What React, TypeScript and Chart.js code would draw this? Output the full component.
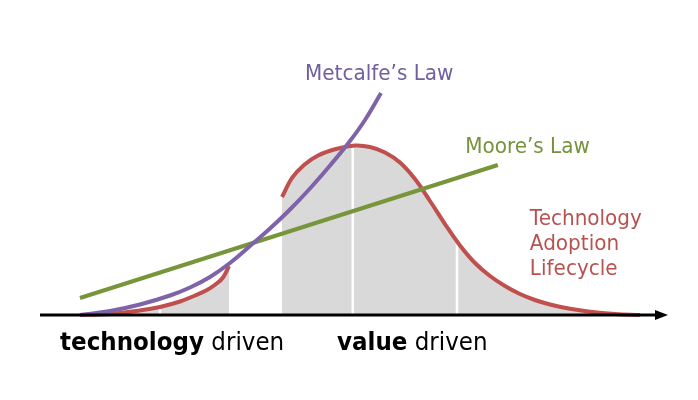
import React, { useEffect, useRef } from "react";
import { Chart, registerables } from "chart.js";

Chart.register(...registerables);

// Horizontal axis: 0..100 (time / maturity), vertical: 0..100 (magnitude)
const earlyAdoptionX = [6.37, 9.55, 12.74, 15.92, 19.11, 22.29, 24.68, 26.59, 28.03, 29.14, 30.1];
const earlyAdoptionY = [0, 0.17, 0.67, 1.5, 2.67, 4.5, 6.5, 8.33, 10.33, 12.5, 16.33];

const mainAdoptionX = [38.54, 40.13, 42.04, 44.27, 47.13, 50.16, 52.55, 54.94, 57.32, 59.71, 62.1, 64.49, 66.88, 69.27, 71.66, 74.04, 76.43, 78.82, 81.21, 84.39, 87.58, 91.56, 95.54];
const mainAdoptionY = [39.33, 45.67, 50, 53.17, 55.33, 56.5, 56, 54.17, 50.83, 45.33, 38, 30.33, 23.17, 17.33, 13, 9.67, 7, 5, 3.5, 2.07, 1.1, 0.37, 0];

const metcalfeX = [6.37, 11.15, 15.92, 20.7, 23.89, 27.07, 30.25, 33.44, 36.62, 39.81, 42.99, 46.18, 49.36, 51.75, 54.3];
const metcalfeY = [0, 1.33, 3.5, 6.5, 9.17, 12.67, 17.33, 23, 28.83, 35.17, 42.17, 49.83, 58, 65, 74];

const mooreX = [6.37, 72.9];
const mooreY = [5.67, 50.0];

const dividerX = [19.11, 49.8, 66.4];
const dividerTop = [2.67, 56.5, 24.6];

const seriesNames = ["Metcalfe’s Law", "Moore’s Law", "Technology", "Adoption", "Lifecycle"];
const phaseBold = ["technology", "value"];
const phaseRest = [" driven", " driven"];

const RED = "#c0504d";
const PURPLE = "#7f63a9";
const GREEN = "#77953a";
const FILL = "#d9d9d9";

const pts = (xs: number[], ys: number[]) => xs.map((x, i) => ({ x, y: ys[i] }));

const FONT = '"DejaVu Sans", Verdana, sans-serif';
const STRETCH = 1.1;

function drawText(ctx: CanvasRenderingContext2D, text: string, x: number, y: number) {
  ctx.save();
  ctx.translate(x, y);
  ctx.scale(1, STRETCH);
  ctx.fillText(text, 0, 0);
  ctx.restore();
}

const decorPlugin = {
  id: "decor",
  afterDatasetsDraw(chart: any) {
    const { ctx, chartArea, scales } = chart;
    const ys = scales.y;
    const y0 = ys.getPixelForValue(0);
    ctx.save();
    ctx.strokeStyle = "#000";
    ctx.fillStyle = "#000";
    ctx.lineWidth = 3;
    ctx.beginPath();
    ctx.moveTo(chartArea.left, y0);
    ctx.lineTo(chartArea.right - 8, y0);
    ctx.stroke();
    ctx.beginPath();
    ctx.moveTo(chartArea.right, y0);
    ctx.lineTo(chartArea.right - 13, y0 - 5);
    ctx.lineTo(chartArea.right - 13, y0 + 5);
    ctx.closePath();
    ctx.fill();
    ctx.restore();
  },
  afterDraw(chart: any) {
    const { ctx, scales } = chart;
    const xs = scales.x;
    const ys = scales.y;
    const P = (x: number, y: number) => [xs.getPixelForValue(x), ys.getPixelForValue(y)];
    ctx.save();
    ctx.textBaseline = "alphabetic";
    ctx.textAlign = "left";
    ctx.font = `20px ${FONT}`;
    let [tx, ty] = P(42.2, 78.3);
    ctx.fillStyle = "#7060a0";
    drawText(ctx, seriesNames[0], tx, ty);
    [tx, ty] = P(67.7, 54);
    ctx.fillStyle = "#76923c";
    drawText(ctx, seriesNames[1], tx, ty);
    ctx.fillStyle = "#b8524f";
    const techY = [30, 21.67, 13.33];
    for (let i = 0; i < 3; i++) {
      [tx, ty] = P(78.0, techY[i]);
      drawText(ctx, seriesNames[2 + i], tx, ty);
    }
    const phaseX = [3.2, 47.3];
    ctx.fillStyle = "#000";
    for (let i = 0; i < 2; i++) {
      [tx, ty] = P(phaseX[i], -11.67);
      ctx.font = `bold 23px ${FONT}`;
      drawText(ctx, phaseBold[i], tx, ty);
      const w = ctx.measureText(phaseBold[i]).width;
      ctx.font = `23px ${FONT}`;
      drawText(ctx, phaseRest[i], tx + w, ty);
    }
    ctx.restore();
  },
};

export default function App() {
  const ref = useRef<HTMLCanvasElement | null>(null);
  useEffect(() => {
    if (!ref.current) return;
    const base = { pointRadius: 0, clip: false as any, tension: 0.4 };
    const chart = new Chart(ref.current, {
      type: "line",
      data: {
        datasets: [
          { ...base, data: pts(earlyAdoptionX, earlyAdoptionY), borderColor: "rgba(0,0,0,0)", backgroundColor: FILL, fill: "origin", order: 10 },
          { ...base, data: pts(mainAdoptionX, mainAdoptionY), borderColor: "rgba(0,0,0,0)", backgroundColor: FILL, fill: "origin", order: 10 },
          ...dividerX.map((x, i) => ({
            ...base,
            data: [{ x, y: 0 }, { x, y: dividerTop[i] }],
            borderColor: "#ffffff",
            borderWidth: 2.5,
            fill: false,
            order: 9,
          })),
          { ...base, data: pts(earlyAdoptionX, earlyAdoptionY), borderColor: RED, borderWidth: 4, fill: false, order: 8 },
          { ...base, data: pts(mainAdoptionX, mainAdoptionY), borderColor: RED, borderWidth: 4, fill: false, order: 8 },
          { ...base, data: pts(mooreX, mooreY), borderColor: GREEN, borderWidth: 4, fill: false, order: 7 },
          { ...base, data: pts(metcalfeX, metcalfeY), borderColor: PURPLE, borderWidth: 4, fill: false, order: 6 },
        ],
      },
      options: {
        animation: false,
        responsive: false,
        layout: { padding: { left: 40, right: 30, top: 15, bottom: 85 } },
        scales: {
          x: { type: "linear", min: 0, max: 100, display: false },
          y: { type: "linear", min: 0, max: 100, display: false },
        },
        plugins: { legend: { display: false }, tooltip: { enabled: false } },
      },
      plugins: [decorPlugin],
    });
    return () => chart.destroy();
  }, []);
  return (
    <div style={{ position: "absolute", left: 0, top: 0, width: 698, height: 400, background: "#fff" }}>
      <canvas ref={ref} width={698} height={400} />
    </div>
  );
}
